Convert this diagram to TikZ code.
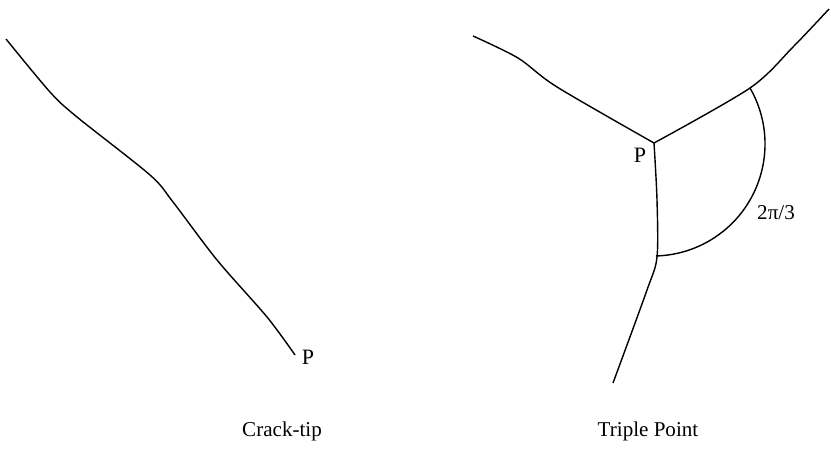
\documentclass[tikz,border=0pt]{standalone}
\usepackage{fontspec}
\setmainfont{Liberation Serif}
\usetikzlibrary{positioning}

\begin{document}
\begin{tikzpicture}[x=0.02cm, y=-0.02cm, line width=0.8pt,
    caption/.style={font=\fontsize{12}{14}\selectfont},
    tag/.style={font=\fontsize{12.5}{14}\selectfont, inner sep=0pt}]
  \useasboundingbox (0,0) rectangle (831,449);

  % crack-tip
  \begin{scope}
    \coordinate (tip) at (295,355);
    \draw plot[smooth, tension=0.5] coordinates {(6,39) (50,92) (77,117) (150,175) (173,202) (217,260) (267,317) (tip)};
    \node[tag] (ptip) at (308,357) {P};
    \node[caption] (lblcrack) at (282,431) {Crack-tip};
  \end{scope}

  % triple point
  \begin{scope}
    \coordinate (tp) at (654,143);
    \coordinate (armA) at (750,88);
    \coordinate (armB) at (657,257);
    \draw plot[smooth, tension=0.5] coordinates {(473,36) (518,58) (557,87) (tp)};
    \draw plot[smooth, tension=0.5] coordinates {(tp) (armA) (793,47) (829,9)};
    \draw plot[smooth, tension=0.5] coordinates {(tp) (657,200) (armB) (647,290) (613,383)};
    \draw (armA) arc[start angle=-30, end angle=88.5, radius=112];
    \node[tag] (ptp) at (640,155) {P};
    \node[tag, font=\fontsize{12}{14}\selectfont] (angle) at (776,213) {2π/3};
    \node[caption] (lbltriple) at (648,431) {Triple Point};
  \end{scope}
\end{tikzpicture}
\end{document}
